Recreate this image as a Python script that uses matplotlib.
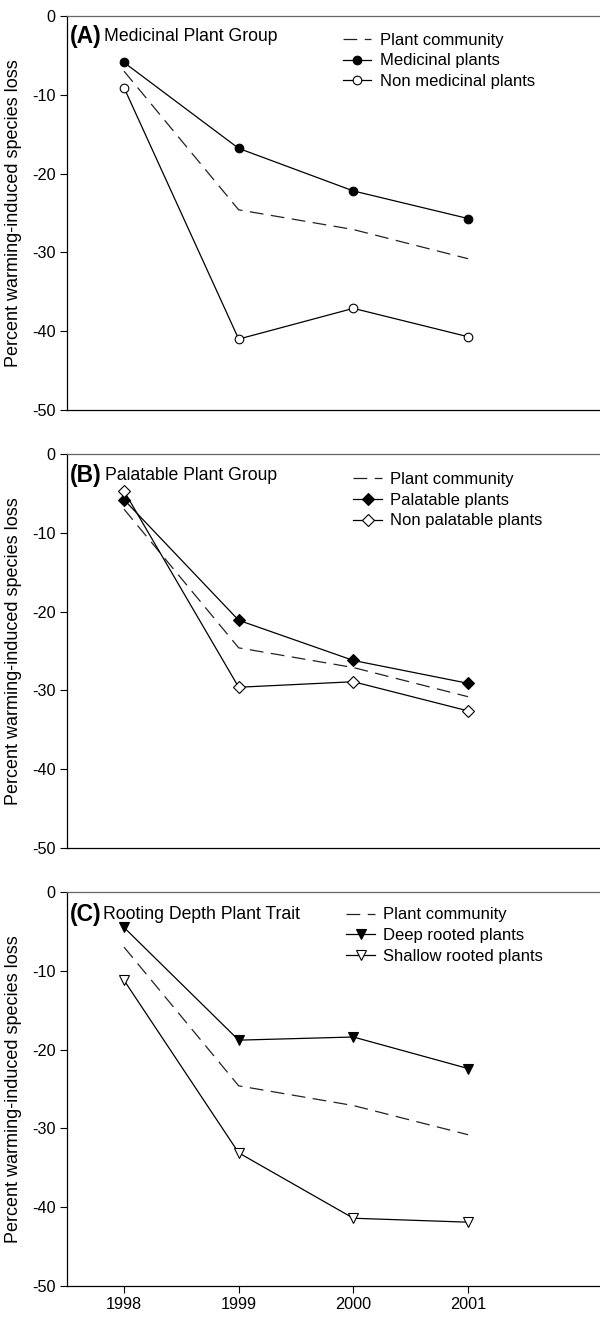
import numpy as np
import matplotlib.pyplot as plt
from matplotlib import font_manager

narrow = 'Liberation Sans Narrow'
names = {f.name for f in font_manager.fontManager.ttflist}
if narrow not in names:
    narrow = 'Liberation Sans'
plt.rcParams['font.family'] = [narrow, 'DejaVu Sans']
plt.rcParams['axes.unicode_minus'] = False

years = [1998, 1999, 2000, 2001]

# plant community (same in every panel)
community = [-7.0, -24.6, -27.1, -30.8]

# (A) medicinal group
medicinal = [-5.9, -16.8, -22.2, -25.7]
non_medicinal = [-9.1, -41.0, -37.1, -40.7]

# (B) palatable group
palatable = [-5.8, -21.1, -26.2, -29.1]
non_palatable = [-4.7, -29.6, -28.9, -32.6]

# (C) rooting depth
deep_rooted = [-4.5, -18.8, -18.4, -22.4]
shallow_rooted = [-11.2, -33.1, -41.4, -41.9]

panels = [
    ("(A)", "Medicinal Plant Group", "o",
     ("Medicinal plants", medicinal), ("Non medicinal plants", non_medicinal)),
    ("(B)", "Palatable Plant Group", "D",
     ("Palatable plants", palatable), ("Non palatable plants", non_palatable)),
    ("(C)", "Rooting Depth Plant Trait", "v",
     ("Deep rooted plants", deep_rooted), ("Shallow rooted plants", shallow_rooted)),
]

W, H = 600, 1317
fig = plt.figure(figsize=(W / 100, H / 100), dpi=100)

left = 66.7 / W
width = (640 - 66.7) / W
tops = [16, 454, 892]
ax_h = 394
title_y = [0.949, 0.946, 0.942]
title_x = [0.065, 0.066, 0.064]
leg_x = [0.482, 0.500, 0.488]
leg_y = [0.958, 0.955, 0.961]
msizes = {'o': 6.2, 'D': 5.8, 'v': 6.5}

for i, (tag, title, mk, (lab1, y1), (lab2, y2)) in enumerate(panels):
    top = tops[i]
    ax = fig.add_axes([left, (H - top - ax_h) / H, width, ax_h / H])

    ax.plot(years, community, color='#222222', lw=0.9, dashes=(11, 6),
            label="Plant community")
    ms = msizes[mk]
    ax.plot(years, y1, color='black', lw=0.9, marker=mk, ms=ms,
            mfc='black', mec='black', mew=0.8, label=lab1)
    ax.plot(years, y2, color='black', lw=0.9, marker=mk, ms=ms,
            mfc='white', mec='black', mew=0.8, label=lab2)

    ax.set_xlim(1997.5, 2002.5)
    ax.set_ylim(-50, 0)
    ax.set_yticks(np.arange(-50, 1, 10))
    ax.tick_params(axis='y', direction='out', length=5, width=0.8,
                   labelsize=11.7, pad=3)
    if i == 2:
        ax.set_xticks(years)
        ax.tick_params(axis='x', direction='out', length=5, width=0.8,
                       labelsize=11.7, pad=3)
    else:
        ax.set_xticks([])

    for s in ['left', 'bottom']:
        ax.spines[s].set_linewidth(0.9)
        ax.spines[s].set_color('black')
    ax.spines['top'].set_color('#666666')
    ax.spines['top'].set_linewidth(0.9)
    ax.spines['right'].set_visible(False)

    ax.set_ylabel("Percent warming-induced species loss", fontsize=13)
    ax.yaxis.set_label_coords(-0.078, 0.5)

    ax.text(0.006, title_y[i], tag, transform=ax.transAxes, fontsize=16.5,
            fontweight='bold', ha='left', va='center')
    ax.text(title_x[i], title_y[i], title, transform=ax.transAxes,
            fontsize=12.7, ha='left', va='center')

    ax.legend(loc='upper left', bbox_to_anchor=(leg_x[i], leg_y[i]),
              frameon=False, fontsize=12, handlelength=1.7,
              handletextpad=0.5, labelspacing=0.35, borderpad=0,
              borderaxespad=0)

fig.savefig("out.png", dpi=100)
